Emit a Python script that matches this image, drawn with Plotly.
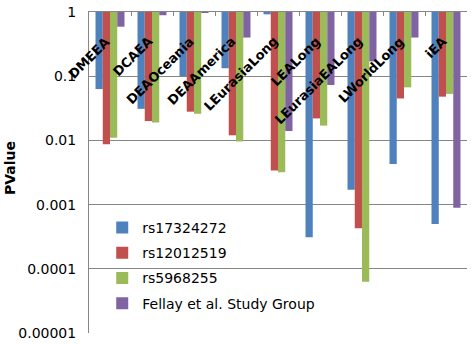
import plotly.graph_objects as go

categories = ["DMEEA", "DCAEA", "DEAOceania", "DEAAmerica", "LEurasiaLong",
              "LEALong", "LEurasiaEALong", "LWorldLong", "iEA"]
rs17324272 = [0.063, 0.031, 0.10, 0.133, 0.92, 0.00031, 0.0017, 0.0043, 0.0005]
rs12012519 = [0.0087, 0.020, 0.028, 0.012, 0.0034, 0.022, 0.00043, 0.045, 0.048]
rs5968255 = [0.011, 0.019, 0.026, 0.0096, 0.0032, 0.017, 0.000063, 0.067, 0.053]
fellay = [0.59, 0.89, 0.98, 0.40, 0.014, 0.073, 0.17, 0.40, 0.00089]

series = [
    ("rs17324272", rs17324272, "#4F81BD"),
    ("rs12012519", rs12012519, "#C0504D"),
    ("rs5968255", rs5968255, "#9BBB59"),
    ("Fellay et al. Study Group", fellay, "#8064A2"),
]

tick_vals = [1, 0.1, 0.01, 0.001, 0.0001, 0.00001]
tick_text = ["1", "0.1", "0.01", "0.001", "0.0001", "0.00001"]

FONT = "DejaVu Sans"

fig = go.Figure()
for i, (name, vals, color) in enumerate(series):
    fig.add_trace(go.Bar(
        x=categories,
        y=[v - 1 for v in vals],
        base=1,
        name=name,
        marker=dict(color=color, line=dict(width=0)),
        legendgroup=f"g{i}",
    ))

annotations = []
for c in categories:
    annotations.append(dict(
        x=c, xref="x", y=1, yref="paper",
        text=f"<b>{c}</b>", showarrow=False, textangle=-45,
        xanchor="right", yanchor="top", xshift=6, yshift=-19,
        font=dict(family=FONT, size=13, color="black"),
    ))
annotations.append(dict(
    x=-0.209, xref="paper", y=0.514, yref="paper",
    text="<b>PValue</b>", showarrow=False, textangle=-90,
    xanchor="center", yanchor="middle",
    font=dict(family=FONT, size=14, color="black"),
))

fig.update_layout(
    width=473, height=345,
    margin=dict(l=89, r=6, t=12, b=12, pad=0),
    paper_bgcolor="white", plot_bgcolor="white",
    barmode="group", bargap=0.31, bargroupgap=0,
    font=dict(family=FONT, size=14, color="black"),
    showlegend=True,
    legend=dict(
        x=0.035, y=0.377, xanchor="left", yanchor="top",
        bgcolor="rgba(0,0,0,0)", traceorder="grouped", tracegroupgap=4,
        font=dict(family=FONT, size=14, color="black"),
        itemwidth=30,
    ),
    annotations=annotations,
    xaxis=dict(
        side="top", showticklabels=False, ticks="inside", ticklen=4,
        tickcolor="#868686", tickson="boundaries",
        range=[-0.5, len(categories) - 0.5], autorange=False,
        showline=True, linecolor="#868686", linewidth=1,
        showgrid=False, zeroline=False,
    ),
    yaxis=dict(
        type="log", range=[-5, 0], autorange=False,
        tickvals=tick_vals, ticktext=tick_text,
        showgrid=True, gridcolor="#868686", gridwidth=1,
        showline=True, linecolor="#868686", linewidth=1,
        ticks="", ticklabelstandoff=9,
        tickfont=dict(family=FONT, size=14, color="black"),
        zeroline=False, automargin=False,
    ),
)

fig.write_html("out.html", config={"displayModeBar": False},
               post_script="document.body.style.margin='0';")
